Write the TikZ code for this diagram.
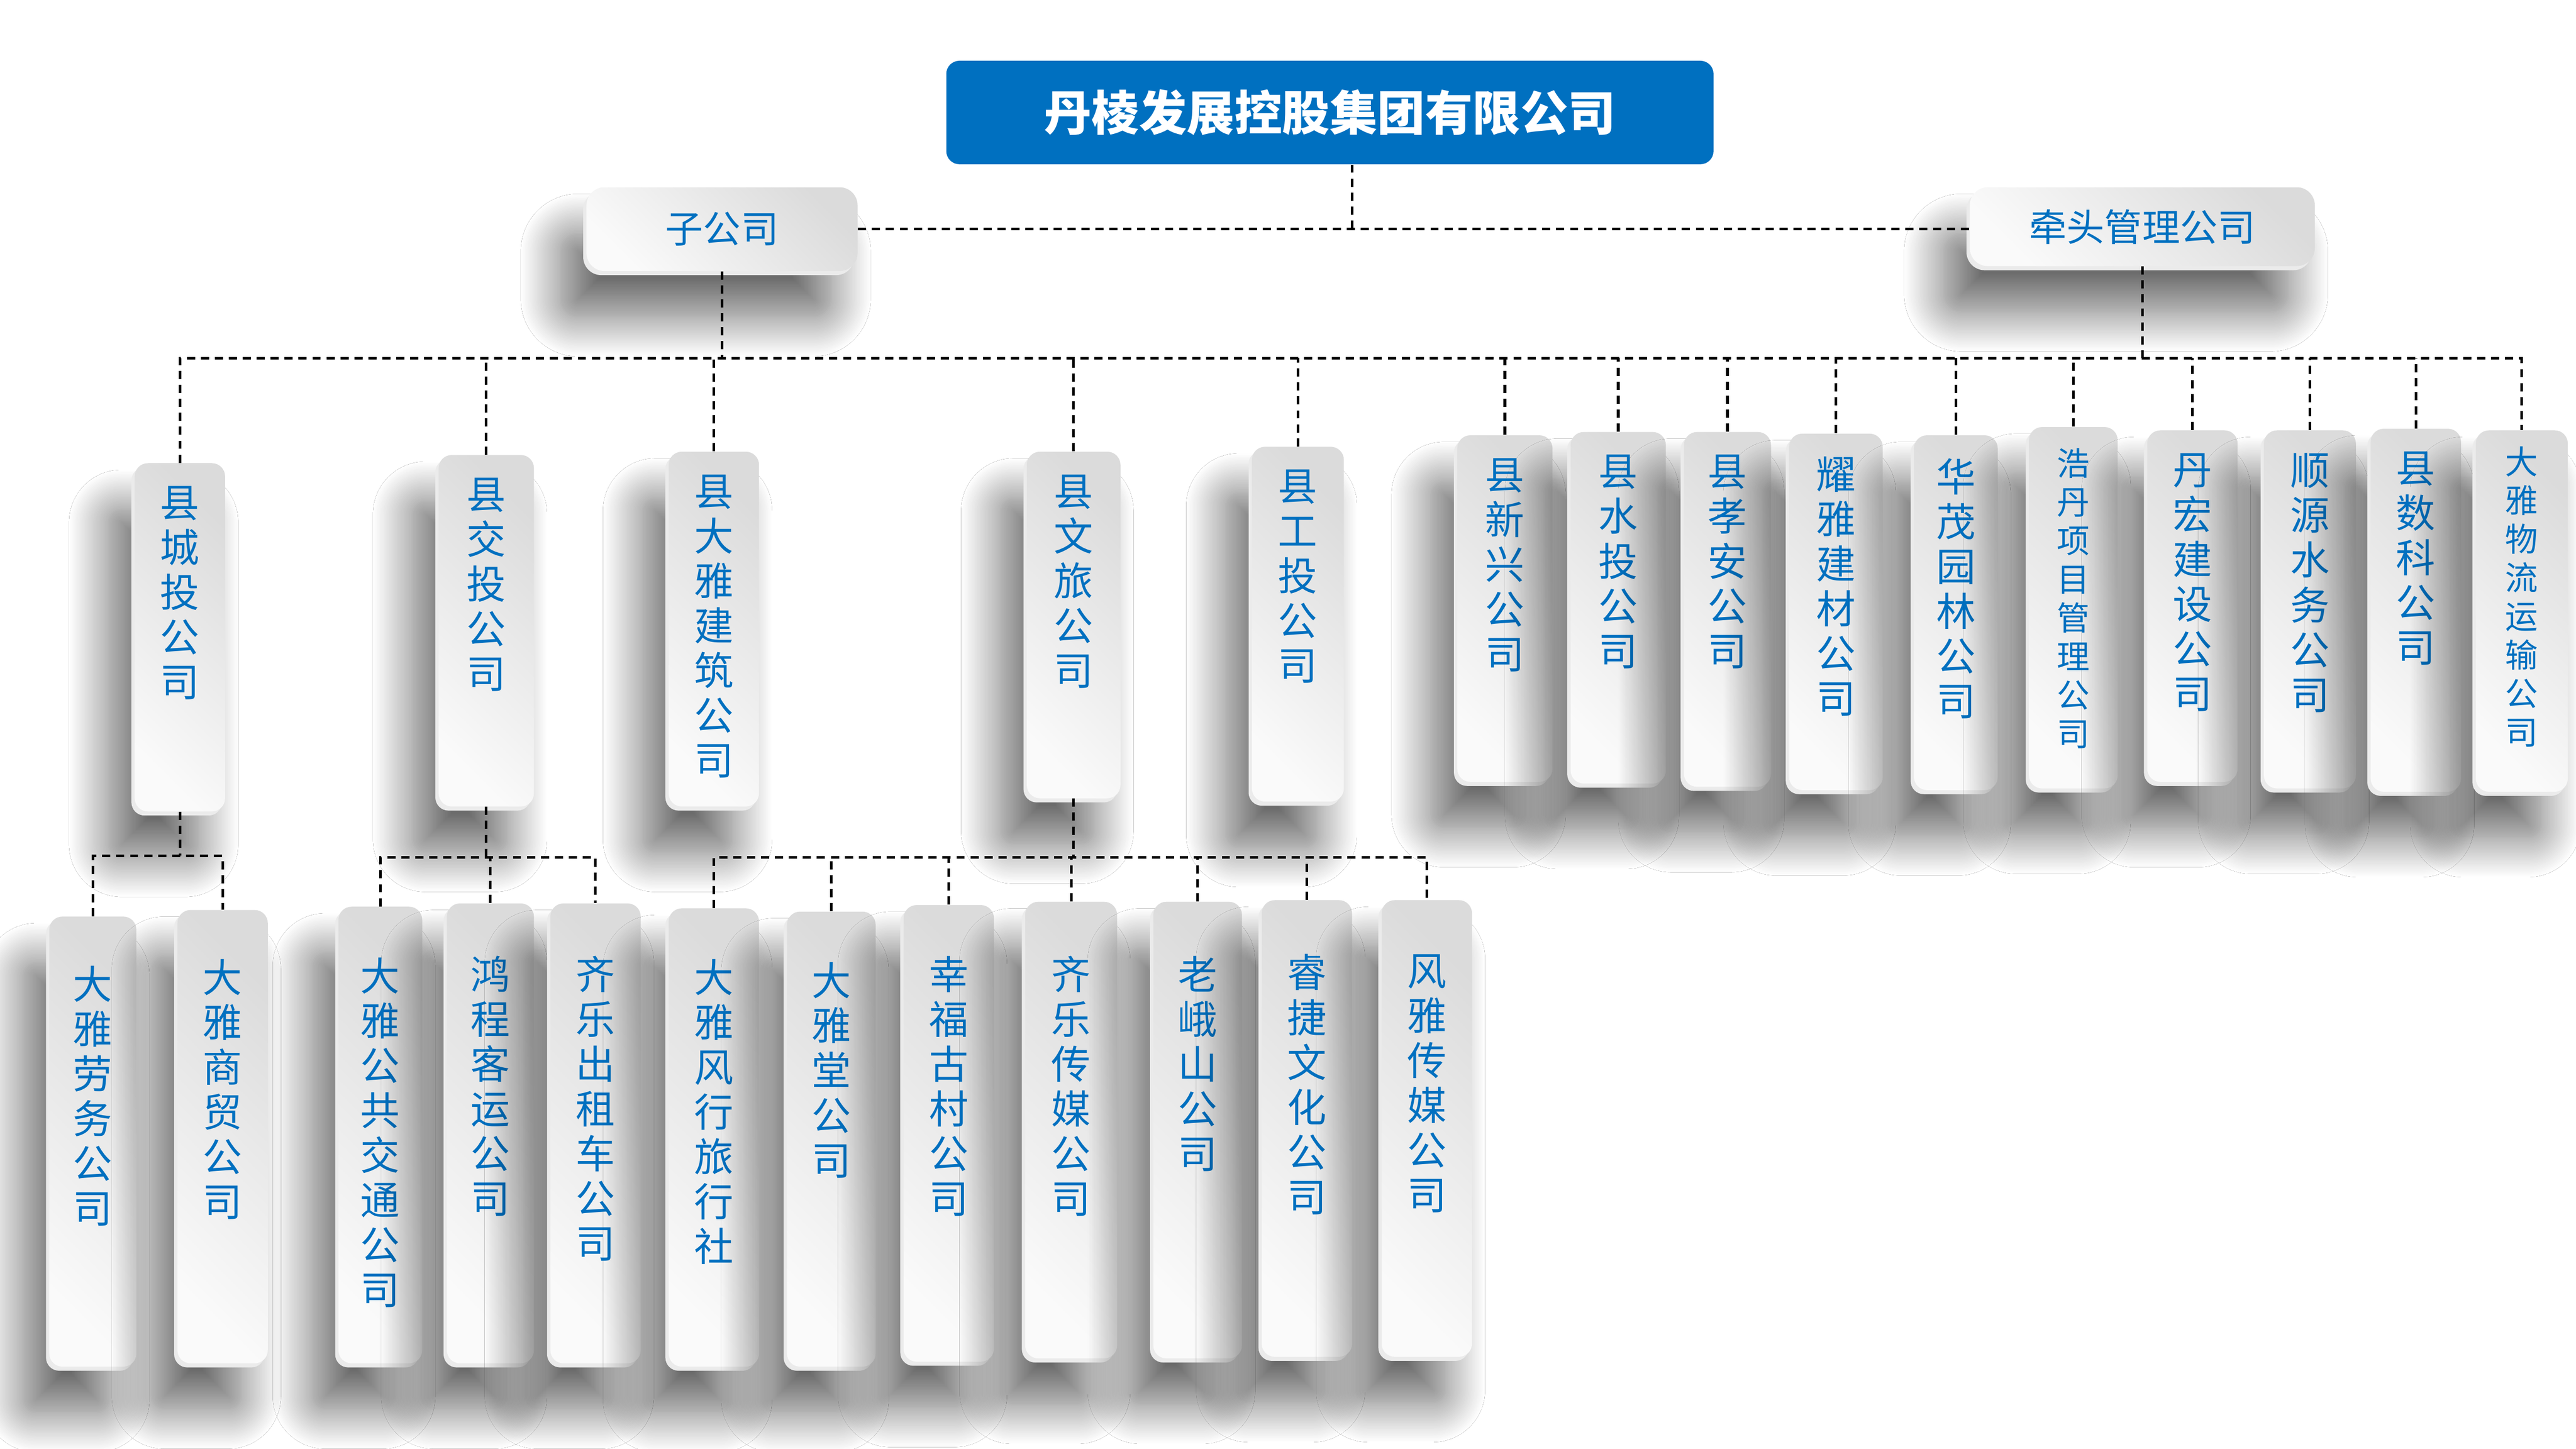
\documentclass[tikz,border=0pt]{standalone}
\usepackage{fontspec}
\setmainfont{Noto Sans CJK SC}
\usetikzlibrary{shadows.blur}
\definecolor{tblue}{HTML}{0070C0}
\definecolor{titleblue}{HTML}{0070C0}
\def\vst#1{\vstA#1\relax}
\def\vstA#1{\ifx\relax#1\else#1\par\expandafter\vstA\fi}
\newcommand{\vt}[6]{\begin{minipage}[c][#1][t]{#2}\centering\vspace*{#3}\fontsize{#4}{#5}\selectfont\vst{#6}\end{minipage}}
\newcommand{\vA}[4]{\vt{#1}{#2}{#3}{24pt}{27.3pt}{#4}}
\newcommand{\vS}[4]{\vt{#1}{#2}{#3}{20pt}{23.5pt}{#4}}
\tikzset{
  cbox/.style={rectangle, rounded corners=8pt, inner sep=0pt, text=tblue,
    blur shadow={shadow xshift=-16pt, shadow yshift=-28pt, shadow blur radius=24pt, shadow blur steps=30, shadow opacity=58},
    preaction={fill=black!8, transform canvas={shift={(-2pt,-2.5pt)}}},
    top color=black!14, bottom color=black!2, shading angle=-45},
  hbox/.style={cbox, rounded corners=11pt, font=\fontsize{23pt}{27pt}\selectfont},
  titlebox/.style={rectangle, rounded corners=8pt, fill=titleblue, text=white, inner sep=0pt,
    minimum width=467pt, minimum height=63pt, font=\fontsize{29pt}{34pt}\selectfont\bfseries},
  dl/.style={dash pattern=on 5pt off 3.5pt, line width=1.6pt, black}
}
\begin{document}
\begin{tikzpicture}[x=1pt,y=-1pt]
\useasboundingbox (0,0) rectangle (1568,882);
\fill[white] (0,0) rectangle (1568,882);

% top level
\node[titlebox] (top) at (809.5,68.5) {丹棱发展控股集团有限公司};
\node[hbox, minimum width=165pt, minimum height=51pt] (zgs) at (439.5,139.5) {子公司};
\node[hbox, minimum width=210pt, minimum height=48pt] (qt) at (1304,138) {牵头管理公司};

% second row
\node[cbox] (cheng) at (109.5,388) {\vA{212pt}{55pt}{14pt}{县城投公司}};
\node[cbox] (jiao) at (296,384) {\vA{214pt}{58pt}{14pt}{县交投公司}};
\node[cbox] (dajz) at (434.5,383) {\vA{216pt}{55pt}{14pt}{县大雅建筑公司}};
\node[cbox] (wenlv) at (653.5,380.5) {\vA{211pt}{57pt}{14pt}{县文旅公司}};
\node[cbox] (gongtou) at (790,380) {\vA{216pt}{56pt}{14pt}{县工投公司}};
\node[cbox] (xinxing) at (916,370.5) {\vA{211pt}{58pt}{14pt}{县新兴公司}};
\node[cbox] (shuitou) at (985,370) {\vA{214pt}{58pt}{14pt}{县水投公司}};
\node[cbox] (xiaoan) at (1051.5,371) {\vA{216pt}{53pt}{14pt}{县孝安公司}};
\node[cbox] (yaoya) at (1117.5,372.5) {\vA{217pt}{57pt}{14pt}{耀雅建材公司}};
\node[cbox] (huamao) at (1190.5,373) {\vA{216pt}{51pt}{14pt}{华茂园林公司}};
\node[cbox] (haodan) at (1262,370) {\vS{220pt}{54pt}{13pt}{浩丹项目管理公司}};
\node[cbox] (danhong) at (1334.5,369) {\vA{214pt}{55pt}{14pt}{丹宏建设公司}};
\node[cbox] (shunyuan) at (1406,371) {\vA{218pt}{56pt}{14pt}{顺源水务公司}};
\node[cbox] (shuke) at (1470.5,371.5) {\vA{221pt}{55pt}{14pt}{县数科公司}};
\node[cbox] (wuliu) at (1535,372) {\vS{220pt}{56pt}{10pt}{大雅物流运输公司}};

% third row
\node[cbox] (laowu) at (56.5,695) {\vA{274pt}{53pt}{30pt}{大雅劳务公司}};
\node[cbox] (shangmao) at (135.5,692) {\vA{276pt}{55pt}{30pt}{大雅商贸公司}};
\node[cbox] (gongjiao) at (231.5,691) {\vA{278pt}{51pt}{31pt}{大雅公共交通公司}};
\node[cbox] (hongcheng) at (298.5,690) {\vA{280pt}{53pt}{32pt}{鸿程客运公司}};
\node[cbox] (qilechuzu) at (362.5,690) {\vA{280pt}{55pt}{32pt}{齐乐出租车公司}};
\node[cbox] (fengxing) at (434.5,692.5) {\vA{279pt}{55pt}{31pt}{大雅风行旅行社}};
\node[cbox] (dayatang) at (506,693.5) {\vA{277pt}{54pt}{31pt}{大雅堂公司}};
\node[cbox] (xingfu) at (577.5,690) {\vA{278pt}{55pt}{31pt}{幸福古村公司}};
\node[cbox] (qlcm) at (652,688) {\vA{278pt}{56pt}{33pt}{齐乐传媒公司}};
\node[cbox] (laoe) at (729,688) {\vA{278pt}{54pt}{33pt}{老峨山公司}};
\node[cbox] (ruijie) at (795.5,687) {\vA{278pt}{55pt}{33pt}{睿捷文化公司}};
\node[cbox] (fengya) at (868.5,687) {\vA{278pt}{55pt}{33pt}{风雅传媒公司}};

% connectors: top
\coordinate (busT) at (0,218);
\coordinate (busA) at (0,521);
\coordinate (busB) at (0,522);
\coordinate (busC) at (0,522);
\draw[dl] (zgs.east) -- (zgs.east -| qt.west);
\draw[dl] ([xshift=13.5pt]top.south) -- ([xshift=13.5pt]top.south |- zgs.east);
\draw[dl] (zgs.south) -- (zgs.south |- busT);
\draw[dl] (qt.south) -- (qt.south |- busT);
\draw[dl] (cheng.north) -- (cheng.north |- busT) -- (wuliu.north |- busT) -- (wuliu.north);
\foreach \n in {jiao,dajz,wenlv,gongtou,xinxing,shuitou,xiaoan,yaoya,huamao,haodan,danhong,shunyuan,shuke}
  \draw[dl] (\n.north) -- (\n.north |- busT);

% connectors: third level
\draw[dl] (cheng.south) -- (cheng.south |- busA);
\draw[dl] (laowu.north) -- (laowu.north |- busA) -| (shangmao.north);

\draw[dl] (jiao.south) -- (jiao.south |- busB);
\draw[dl] (gongjiao.north) -- (gongjiao.north |- busB) -| (qilechuzu.north);
\draw[dl] (hongcheng.north) -- (hongcheng.north |- busB);

\draw[dl] (wenlv.south) -- (wenlv.south |- busC);
\draw[dl] (fengxing.north) -- (fengxing.north |- busC) -| (fengya.north);
\foreach \n in {dayatang,xingfu,qlcm,laoe,ruijie}
  \draw[dl] (\n.north) -- (\n.north |- busC);
\end{tikzpicture}
\end{document}
